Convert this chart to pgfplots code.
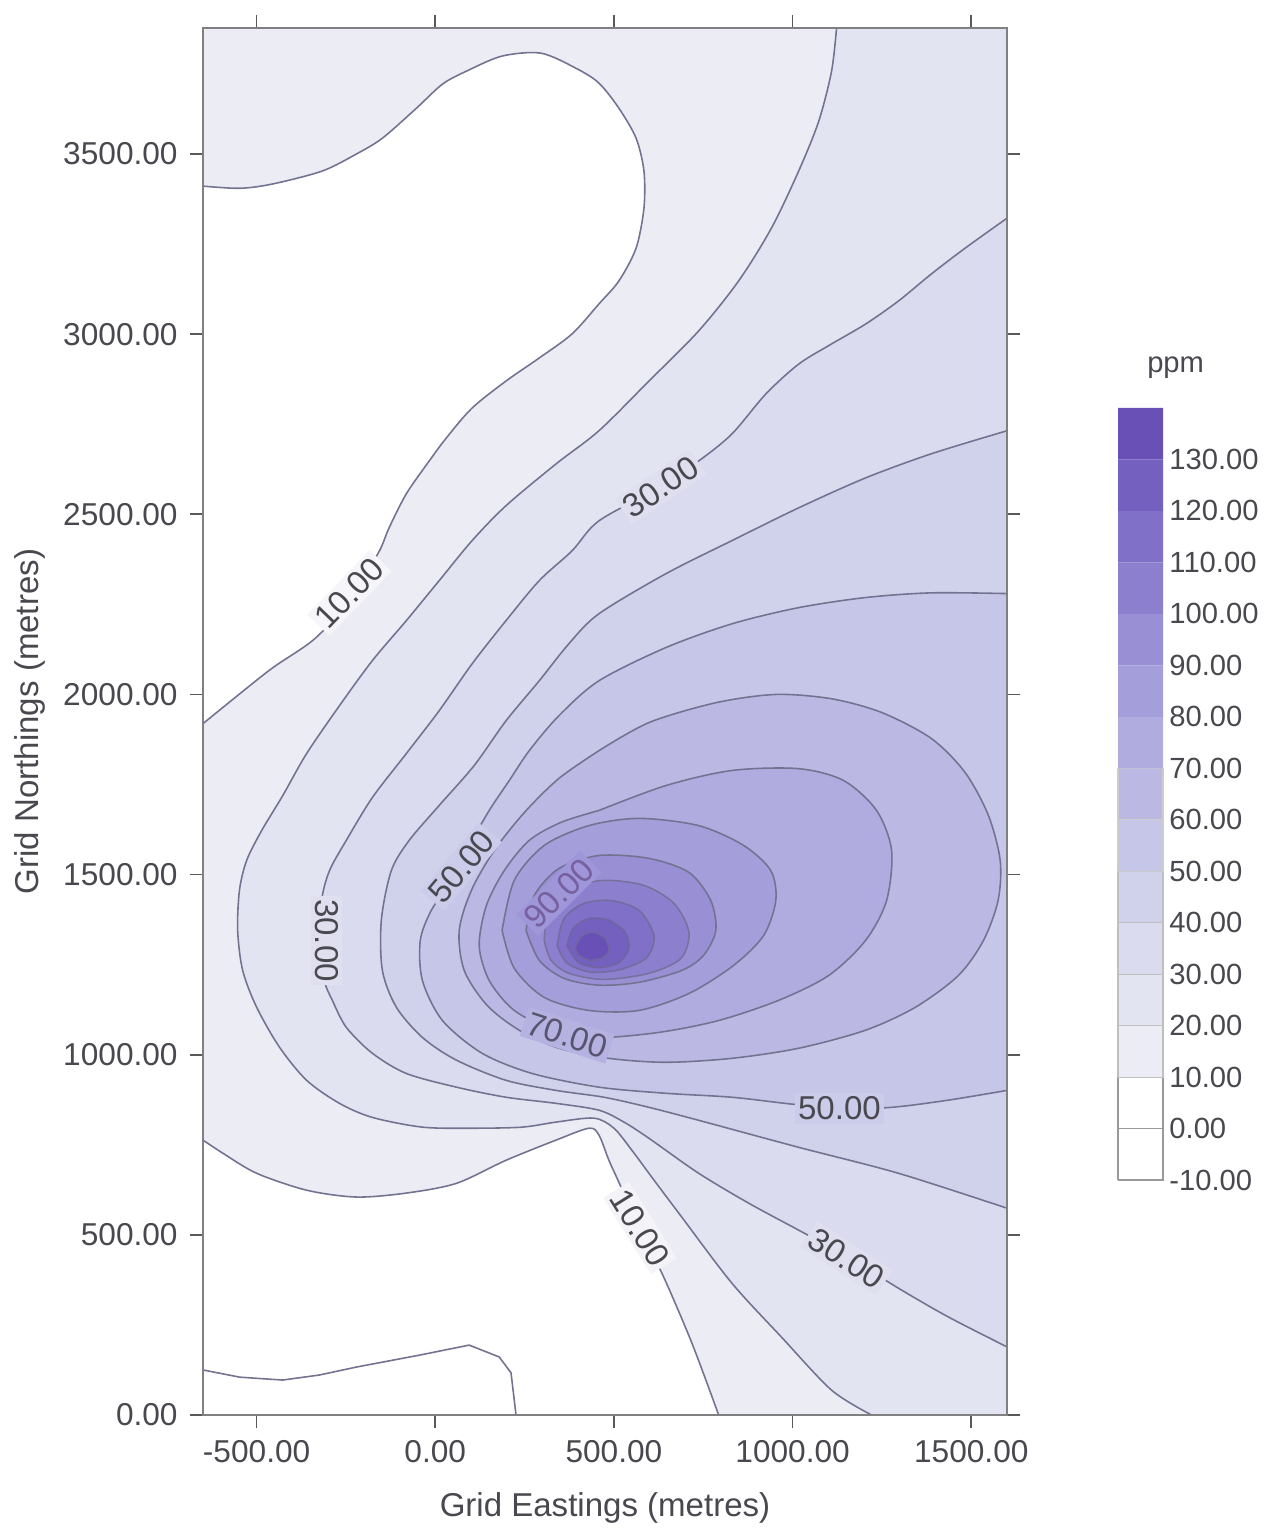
\documentclass[border=0pt]{standalone}
\usepackage{pgfplots}
\pgfplotsset{compat=1.18}
\usepackage{pgfplotstable}
\usepackage{fontspec}
\setmainfont{Liberation Sans}

\definecolor{b10}{RGB}{236,236,244}
\definecolor{b20}{RGB}{227,228,241}
\definecolor{b30}{RGB}{218,219,238}
\definecolor{b40}{RGB}{208,209,235}
\definecolor{b50}{RGB}{198,198,232}
\definecolor{b60}{RGB}{187,185,228}
\definecolor{b70}{RGB}{176,172,224}
\definecolor{b80}{RGB}{164,158,219}
\definecolor{b90}{RGB}{152,143,213}
\definecolor{b100}{RGB}{140,128,206}
\definecolor{b110}{RGB}{128,112,199}
\definecolor{b120}{RGB}{116,96,191}
\definecolor{b130}{RGB}{104,80,183}
\definecolor{lc}{RGB}{115,115,145}
\definecolor{txt}{RGB}{72,72,78}

% contour lines (Grid Eastings, Grid Northings in metres)
\pgfplotstableread{
x y
-650 125
-547 105
-427 97
-324 111
-221 133
-45 166
95 194
179 161
212 117
226 0
}\czero

\pgfplotstableread{
x y
-650 3411
-547 3405
-455 3417
-316 3453
-221 3500
-148 3544
-53 3627
20 3694
87 3730
187 3772
296 3780
394 3738
458 3697
514 3627
562 3544
584 3453
584 3350
562 3239
514 3148
458 3084
383 3001
291 2934
198 2870
103 2795
31 2712
-17 2648
-81 2557
-129 2463
-156 2399
-212 2307
-268 2227
-344 2149
-455 2074
-547 2002
-650 1919
}\ctenA

\pgfplotstableread{
x y
-650 763
-595 727
-500 671
-360 624
-221 605
-81 616
59 643
198 707
338 763
430 796
458 777
486 707
520 632
570 513
634 394
718 200
793 0
}\ctenB

\pgfplotstableread{
x y
1123 3850
1109 3730
1073 3591
1017 3453
941 3295
849 3148
737 3009
598 2870
458 2732
338 2640
198 2524
103 2427
11 2316
-81 2205
-176 2094
-268 1969
-360 1836
-427 1719
-486 1622
-528 1539
-548 1456
-553 1345
-539 1234
-500 1132
-436 1021
-360 929
-268 865
-176 826
-36 799
103 796
243 799
338 813
444 824
500 796
550 735
612 652
690 549
830 366
969 216
1109 69
1221 0
}\ctwenty

\pgfplotstableread{
x y
1600 3322
1483 3239
1388 3167
1296 3092
1204 3028
1109 2973
1017 2917
925 2834
830 2723
737 2648
626 2574
458 2482
383 2399
291 2316
198 2205
103 2085
11 1955
-81 1836
-176 1714
-249 1595
-296 1511
-318 1428
-318 1317
-310 1206
-288 1151
-249 1076
-176 1004
-81 948
59 910
198 882
338 865
458 846
528 813
598 768
737 671
877 588
1017 513
1156 438
1296 352
1436 272
1600 189
}\cthirty

\pgfplotstableread{
x y
1600 2732
1388 2668
1204 2601
1017 2518
830 2427
645 2335
458 2224
374 2141
291 2038
198 1927
109 1803
11 1692
-73 1595
-123 1511
-151 1373
-148 1234
-109 1132
-36 1048
59 985
198 929
338 901
472 882
598 854
737 818
1017 743
1296 671
1600 574
}\cforty

\pgfplotstableread{
x y
1600 2280
1388 2282
1204 2269
1017 2241
830 2196
645 2130
458 2038
346 1941
263 1844
207 1761
151 1678
95 1581
45 1484
-11 1401
-42 1317
-36 1206
20 1095
131 1004
271 948
458 910
645 893
830 882
997 863
1131 851
1277 854
1436 874
1600 901
}\cfifty

\pgfplotstableread{
x y
458 1844
598 1922
785 1977
953 2000
1109 1988
1249 1950
1388 1878
1483 1783
1548 1664
1581 1539
1575 1428
1534 1317
1464 1220
1344 1132
1204 1068
1017 1018
830 990
645 979
486 990
346 1018
235 1068
145 1137
81 1234
67 1345
101 1456
165 1567
249 1672
346 1767
458 1844
}\csixty

\pgfplotstableread{
x y
458 1678
645 1747
830 1789
1017 1794
1143 1761
1235 1678
1277 1567
1263 1428
1204 1317
1101 1220
961 1151
793 1095
626 1062
458 1048
332 1068
221 1123
151 1206
123 1303
143 1414
193 1511
263 1595
352 1645
458 1678
}\cseventy

\pgfplotstableread{
x y
187 1345
221 1484
305 1581
430 1636
570 1656
737 1636
863 1581
939 1511
953 1428
919 1331
835 1248
710 1170
570 1123
430 1123
305 1159
221 1240
187 1345
}\ceighty

\pgfplotstableread{
x y
254 1345
277 1442
346 1517
458 1553
598 1545
710 1506
771 1428
785 1345
751 1276
690 1234
570 1201
458 1193
360 1212
291 1262
254 1345
}\cninety

\pgfplotstableread{
x y
305 1317
318 1406
380 1462
472 1484
584 1470
668 1420
710 1340
687 1267
598 1226
472 1209
374 1226
324 1262
305 1317
}\chundred

\pgfplotstableread{
x y
341 1303
360 1378
416 1420
492 1428
570 1401
612 1331
592 1270
520 1237
436 1229
369 1254
341 1303
}\chundredten

\pgfplotstableread{
x y
369 1303
386 1351
430 1378
486 1373
531 1340
542 1295
514 1256
458 1242
402 1256
369 1303
}\chundredtwenty

\pgfplotstableread{
x y
391 1295
408 1328
441 1340
475 1323
486 1290
469 1270
433 1262
402 1276
391 1295
}\chundredthirty

\begin{document}
\begin{tikzpicture}
\path[use as bounding box] (0,0) rectangle (126.4mm,152.8mm);
\begin{axis}[
  scale only axis, width=80.4mm, height=138.7mm,
  at={(20.3mm,11.3mm)}, anchor=south west,
  xmin=-650, xmax=1600, ymin=0, ymax=3850,
  xtick={-500,0,500,1000,1500},
  ytick={0,500,1000,1500,2000,2500,3000,3500},
  tick align=outside, major tick length=1.3mm,
  tick style={draw=black!65, line width=0.5pt},
  axis line style={draw=black!50, line width=0.4pt},
  axis background/.style={fill=b10},
  axis on top,
  ticklabel style={font=\fontsize{9}{10}\selectfont, text=txt},
  /pgf/number format/.cd, fixed, fixed zerofill, precision=2, 1000 sep={}, assume math mode=true,
  /pgfplots/.cd,
  xlabel={Grid Eastings (metres)},
  ylabel={Grid Northings (metres)},
  xlabel style={font=\fontsize{9.4}{11}\selectfont, text=txt, at={(axis description cs:0.5,-0.067)}, anchor=center},
  ylabel style={font=\fontsize{9.4}{11}\selectfont, text=txt, at={(axis description cs:-0.215,0.5)}, anchor=center, rotate=0},
]
% filled bands
\addplot[fill=white, draw=none, smooth] table {\ctenA};
\addplot[fill=white, draw=none, smooth] table {\ctenB} -- (axis cs:-650,0) -- cycle;
\addplot[fill=b20, draw=none, smooth] table {\ctwenty} -- (axis cs:1600,0) -- (axis cs:1600,3850) -- cycle;
\addplot[fill=b30, draw=none, smooth] table {\cthirty};
\addplot[fill=b40, draw=none, smooth] table {\cforty};
\addplot[fill=b50, draw=none, smooth] table {\cfifty};
\addplot[fill=b60, draw=none, smooth] table {\csixty};
\addplot[fill=b70, draw=none, smooth] table {\cseventy};
\addplot[fill=b80, draw=none, smooth] table {\ceighty};
\addplot[fill=b90, draw=none, smooth] table {\cninety};
\addplot[fill=b100, draw=none, smooth] table {\chundred};
\addplot[fill=b110, draw=none, smooth] table {\chundredten};
\addplot[fill=b120, draw=none, smooth] table {\chundredtwenty};
\addplot[fill=b130, draw=none, smooth] table {\chundredthirty};
% contour lines
\addplot[lc, line width=0.45pt] table {\czero};
\addplot[lc, line width=0.45pt, smooth] table {\ctenA};
\addplot[lc, line width=0.45pt, smooth] table {\ctenB};
\addplot[lc, line width=0.45pt, smooth] table {\ctwenty};
\addplot[lc, line width=0.45pt, smooth] table {\cthirty};
\addplot[lc, line width=0.45pt, smooth] table {\cforty};
\addplot[lc, line width=0.45pt, smooth] table {\cfifty};
\addplot[lc, line width=0.45pt, smooth] table {\csixty};
\addplot[lc, line width=0.45pt, smooth] table {\cseventy};
\addplot[lc, line width=0.45pt, smooth] table {\ceighty};
\addplot[lc, line width=0.45pt, smooth] table {\cninety};
\addplot[lc!80!b110, line width=0.45pt, smooth] table {\chundred};
\addplot[lc!70!b120, line width=0.45pt, smooth] table {\chundredten};
\addplot[lc!60!b130, line width=0.45pt, smooth] table {\chundredtwenty};
\addplot[lc!60!b130, line width=0.45pt, smooth] table {\chundredthirty};
% contour labels
\tikzset{clab/.style={font=\fontsize{9.4}{11}\selectfont, text=txt, inner sep=1pt}}
\node[clab, fill=b10!50!white, rotate=46] at (axis cs:-240,2282) {10.00};
\node[clab, fill=b20!50!b30, rotate=34] at (axis cs:631,2576) {30.00};
\node[clab, fill=b40!50!b50, rotate=50] at (axis cs:73,1522) {50.00};
\node[clab, fill=b80!50!b90, rotate=45, text={rgb,255:red,118;green,96;blue,160}] at (axis cs:346,1448) {90.00};
\node[clab, fill=b60!50!b70, rotate=-18, text={rgb,255:red,88;green,84;blue,110}] at (axis cs:369,1054) {70.00};
\node[clab, fill=b20!50!b30, rotate=-90] at (axis cs:-304,1317) {30.00};
\node[clab, fill=b40!50!b50, rotate=0] at (axis cs:1131,851) {50.00};
\node[clab, fill=b10!60!white, rotate=-58] at (axis cs:573,519) {10.00};
\node[clab, fill=b20!50!b30, rotate=-33] at (axis cs:1151,435) {30.00};
\end{axis}

% colour scale
\begin{axis}[
  scale only axis, width=4.5mm, height=77.2mm,
  at={(111.8mm,34.8mm)}, anchor=south west,
  xmin=0, xmax=1, ymin=-10, ymax=140,
  axis line style={draw=none},
  xtick=\empty,
  ytick={-10,0,10,20,30,40,50,60,70,80,90,100,110,120,130},
  yticklabel pos=right,
  major tick length=0pt,
  ytick style={draw=none},
  yticklabel style={font=\fontsize{8.3}{10}\selectfont, text=txt, xshift=-0.6mm},
  /pgf/number format/.cd, fixed, fixed zerofill, precision=2, assume math mode=true,
  /pgfplots/.cd,
  clip=false,
]
\addplot[fill=white, draw=black!40, line width=0.3pt] coordinates {(0,-10) (1,-10) (1,0) (0,0) (0,-10)};
\addplot[fill=white, draw=black!40, line width=0.3pt] coordinates {(0,0) (1,0) (1,10) (0,10) (0,0)};
\addplot[fill=b10, draw=black!25, line width=0.3pt] coordinates {(0,10) (1,10) (1,20) (0,20) (0,10)};
\addplot[fill=b20, draw=black!25, line width=0.3pt] coordinates {(0,20) (1,20) (1,30) (0,30) (0,20)};
\addplot[fill=b30, draw=black!25, line width=0.3pt] coordinates {(0,30) (1,30) (1,40) (0,40) (0,30)};
\addplot[fill=b40, draw=black!25, line width=0.3pt] coordinates {(0,40) (1,40) (1,50) (0,50) (0,40)};
\addplot[fill=b50, draw=black!20, line width=0.3pt] coordinates {(0,50) (1,50) (1,60) (0,60) (0,50)};
\addplot[fill=b60, draw=black!20, line width=0.3pt] coordinates {(0,60) (1,60) (1,70) (0,70) (0,60)};
\addplot[fill=b70, draw=none] coordinates {(0,70) (1,70) (1,80) (0,80) (0,70)};
\addplot[fill=b80, draw=none] coordinates {(0,80) (1,80) (1,90) (0,90) (0,80)};
\addplot[fill=b90, draw=none] coordinates {(0,90) (1,90) (1,100) (0,100) (0,90)};
\addplot[fill=b100, draw=none] coordinates {(0,100) (1,100) (1,110) (0,110) (0,100)};
\addplot[fill=b110, draw=none] coordinates {(0,110) (1,110) (1,120) (0,120) (0,110)};
\addplot[fill=b120, draw=none] coordinates {(0,120) (1,120) (1,130) (0,130) (0,120)};
\addplot[fill=b130, draw=none] coordinates {(0,130) (1,130) (1,140) (0,140) (0,130)};
\node[font=\fontsize{8.3}{10}\selectfont, text=txt] at (rel axis cs:1.28,1.052) {ppm};
\end{axis}
\end{tikzpicture}
\end{document}
